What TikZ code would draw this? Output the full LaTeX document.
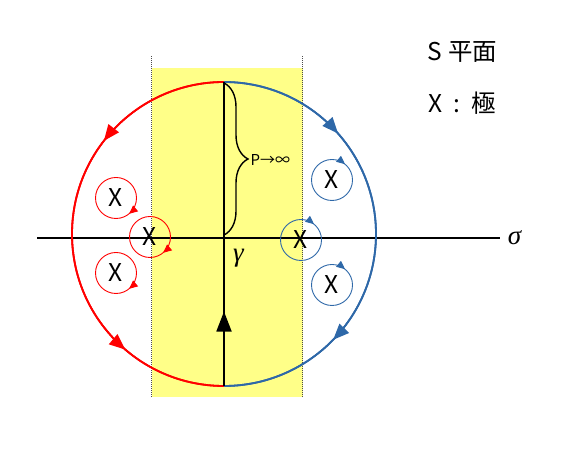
\documentclass[tikz,border=0pt]{standalone}
\usepackage{fontspec}
\setmainfont{Noto Sans CJK JP}
\newfontfamily\grkfont{Liberation Serif}
\usetikzlibrary{arrows.meta,decorations.markings,decorations.pathreplacing}
\definecolor{myblue}{RGB}{46,104,168}
\definecolor{myyellow}{RGB}{255,255,136}
\begin{document}
\begin{tikzpicture}[x=1pt,y=1pt,
  bigarc/.style={line width=1.8pt},
  smallc/.style={line width=0.9pt},
  dotline/.style={line width=0.9pt, black!70, dash pattern=on 1pt off 1pt},
  lbl/.style={font=\fontsize{24.5}{27}\selectfont, inner sep=0pt},
  mathlbl/.style={font=\grkfont\itshape\fontsize{27}{30}\selectfont, inner sep=0pt},
  bigmark/.style={decoration={markings, mark=at position #1 with {\arrow{Triangle[length=16pt,width=13pt]}}}, postaction=decorate},
  smallmark/.style={decoration={markings, mark=at position #1 with {\arrow{Triangle[length=8.5pt,width=7.5pt]}}}, postaction=decorate},
  gammamark/.style={decoration={markings, mark=at position #1 with {\arrow{Triangle[length=20pt,width=15pt]}}}, postaction=decorate}
]
\useasboundingbox (0,0) rectangle (567,454);
% yellow strip and dotted borders
\fill[myyellow] (151.5,57) rectangle (302.5,386);
\coordinate (dl0) at (151.5,57); \coordinate (dl1) at (151.5,397.5);
\coordinate (dr0) at (302.5,57); \coordinate (dr1) at (302.5,397.5);
\draw[dotline] (dl0) -- (dl1);
\draw[dotline] (dr0) -- (dr1);
% real axis
\coordinate (axL) at (37,216);
\coordinate (axR) at (500,216);
\draw[line width=1.2pt] (axL) -- (axR);
\node[mathlbl] (sigma) at (514.5,216) {σ};
% big contour
\coordinate (O) at (224,220);
\coordinate (T) at (224,372);
\coordinate (B) at (224,68);
\draw[red, bigarc, bigmark=0.29] (T) arc[start angle=90, end angle=270, radius=152];
\draw[red, bigarc, bigmark=0.775] (T) arc[start angle=90, end angle=270, radius=152];
\draw[myblue, bigarc, bigmark=0.27] (T) arc[start angle=90, end angle=-90, radius=152];
\draw[myblue, bigarc, bigmark=0.745] (T) arc[start angle=90, end angle=-90, radius=152];
% gamma line
\draw[line width=1.8pt, gammamark=0.245] (B) -- (T);
\node[mathlbl] (gamma) at (238.5,196) {γ};
% brace
\coordinate (bt) at (224,371);
\coordinate (bb) at (224,219);
\draw[line width=1.4pt, decorate, decoration={brace, amplitude=24pt}] (bt) -- (bb);
\node[font=\fontsize{15}{17}\selectfont, inner sep=0pt, anchor=west] (pinf) at (250.5,294) {P→∞};
% poles (left, red)
\coordinate (r1) at (116,256);
\coordinate (r2) at (150,217);
\coordinate (r3) at (116,181);
\foreach \c in {r1,r2,r3}{
  \draw[red, smallc, smallmark=0.14] (\c) ++(20.5,0) arc[start angle=0, end angle=-360, radius=20.5];
}
\node[lbl] (xr1) at (r1) {X};
\node[lbl] (xr2) at (r2) {X};
\node[lbl] (xr3) at (r3) {X};
% poles (right, blue)
\coordinate (b1) at (332,274);
\coordinate (b2) at (301,214);
\coordinate (b3) at (332,169);
\foreach \c in {b1,b2,b3}{
  \draw[myblue, smallc, smallmark=0.11] (\c) ++(0,20.5) arc[start angle=90, end angle=-270, radius=20.5];
}
\node[lbl] (xb1) at (b1) {X};
\node[lbl] (xb2) at (b2) {X};
\node[lbl] (xb3) at (b3) {X};
% legend
\node[lbl] (title) at (462.5,402) {S 平面};
\node[lbl] (legend) at (462.5,351) {X\hspace{0.45em}:\hspace{0.45em}極};
\end{tikzpicture}
\end{document}
